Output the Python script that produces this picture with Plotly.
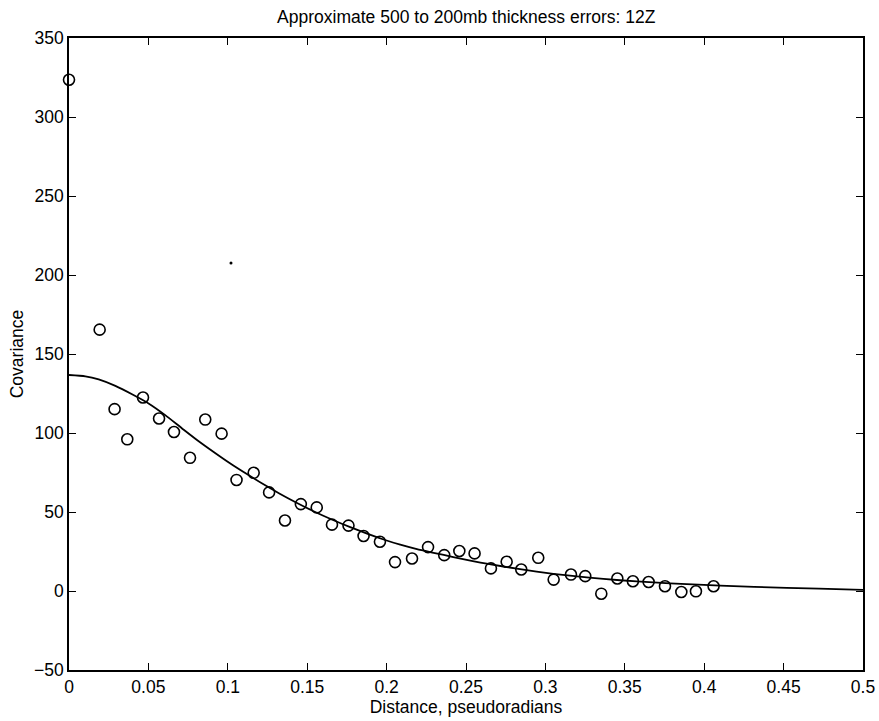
import plotly.graph_objects as go

# Observed covariance points
dist = [0.0, 0.0193, 0.0287, 0.0367, 0.0466, 0.0567, 0.0661, 0.0762, 0.0858, 0.0961,
        0.1055, 0.1163, 0.126, 0.136, 0.146, 0.156, 0.1656, 0.176, 0.1855, 0.1958,
        0.2053, 0.216, 0.2261, 0.2363, 0.2458, 0.2554, 0.2657, 0.2756, 0.2848, 0.2955,
        0.3052, 0.3161, 0.3251, 0.3352, 0.3453, 0.3551, 0.365, 0.3753, 0.3856, 0.3948,
        0.4059]
cov = [323.6, 165.4, 115.1, 96.0, 122.5, 109.2, 100.6, 84.3, 108.5, 99.6,
       70.3, 74.8, 62.4, 44.6, 55.0, 52.9, 42.0, 41.4, 34.8, 31.2,
       18.3, 20.6, 27.8, 22.7, 25.3, 23.8, 14.3, 18.5, 13.6, 21.0,
       7.2, 10.4, 9.4, -1.7, 7.9, 6.2, 5.7, 3.0, -0.6, -0.2,
       3.0]

# Fitted curve
fit_x = [0.0, 0.0103, 0.0187, 0.0292, 0.0397, 0.0501, 0.0606, 0.0712, 0.0806, 0.0911,
         0.1016, 0.112, 0.1225, 0.133, 0.1436, 0.154, 0.1666, 0.1771, 0.1877, 0.1981,
         0.2086, 0.2191, 0.2296, 0.242, 0.263, 0.284, 0.305, 0.326, 0.347, 0.368,
         0.389, 0.41, 0.452, 0.494, 0.5]
fit_y = [136.7, 135.9, 133.9, 129.8, 124.5, 118.7, 111.3, 102.9, 95.6, 88.0,
         80.7, 74.0, 67.5, 61.4, 55.7, 50.5, 44.8, 40.4, 36.3, 32.6,
         29.3, 26.5, 24.2, 21.5, 17.3, 13.8, 10.9, 8.6, 6.8, 5.4,
         4.3, 3.4, 2.0, 0.9, 0.7]

# Stray dot in the figure
dot_x = [0.102]
dot_y = [207.6]

xticks = [0, 0.05, 0.1, 0.15, 0.2, 0.25, 0.3, 0.35, 0.4, 0.45, 0.5]
xtick_text = ["0", "0.05", "0.1", "0.15", "0.2", "0.25", "0.3", "0.35", "0.4", "0.45", "0.5"]
yticks = [-50, 0, 50, 100, 150, 200, 250, 300, 350]

FONT = "Liberation Sans, Arial, Helvetica, sans-serif"
FS = 17.5

fig = go.Figure()
fig.add_trace(go.Scatter(x=fit_x, y=fit_y, mode="lines",
                         line=dict(color="black", width=1.8, shape="spline", smoothing=0.6),
                         showlegend=False, hoverinfo="skip"))
fig.add_trace(go.Scatter(x=dist, y=cov, mode="markers", cliponaxis=False,
                         marker=dict(symbol="circle-open", size=11, color="black",
                                     line=dict(width=1.6, color="black")),
                         showlegend=False))
fig.add_trace(go.Scatter(x=dot_x, y=dot_y, mode="markers",
                         marker=dict(symbol="circle", size=3, color="black"),
                         showlegend=False))

axis_common = dict(showline=True, linecolor="black", linewidth=1.5, mirror="ticks",
                   ticks="inside", ticklen=7, tickwidth=1.2, tickcolor="black",
                   showgrid=False, zeroline=False, automargin=False,
                   tickfont=dict(family=FONT, size=FS, color="black"))

fig.update_layout(
    width=879, height=721,
    margin=dict(l=69, r=16, t=38, b=51),
    paper_bgcolor="white", plot_bgcolor="white",
    title=dict(text="Approximate 500 to 200mb thickness errors: 12Z",
               x=0.5305, xanchor="center", y=0.976, yanchor="middle",
               font=dict(family=FONT, size=FS, color="black")),
    xaxis=dict(range=[0, 0.5], tickvals=xticks, ticktext=xtick_text,
               ticklabeloverflow="allow",
               title=dict(text="Distance, pseudoradians", standoff=4,
                          font=dict(family=FONT, size=FS, color="black")),
               **axis_common),
    yaxis=dict(range=[-50, 350], tickvals=yticks,
               title=dict(text="Covariance", standoff=6,
                          font=dict(family=FONT, size=FS, color="black")),
               **axis_common),
)

fig.write_html("out.html")
